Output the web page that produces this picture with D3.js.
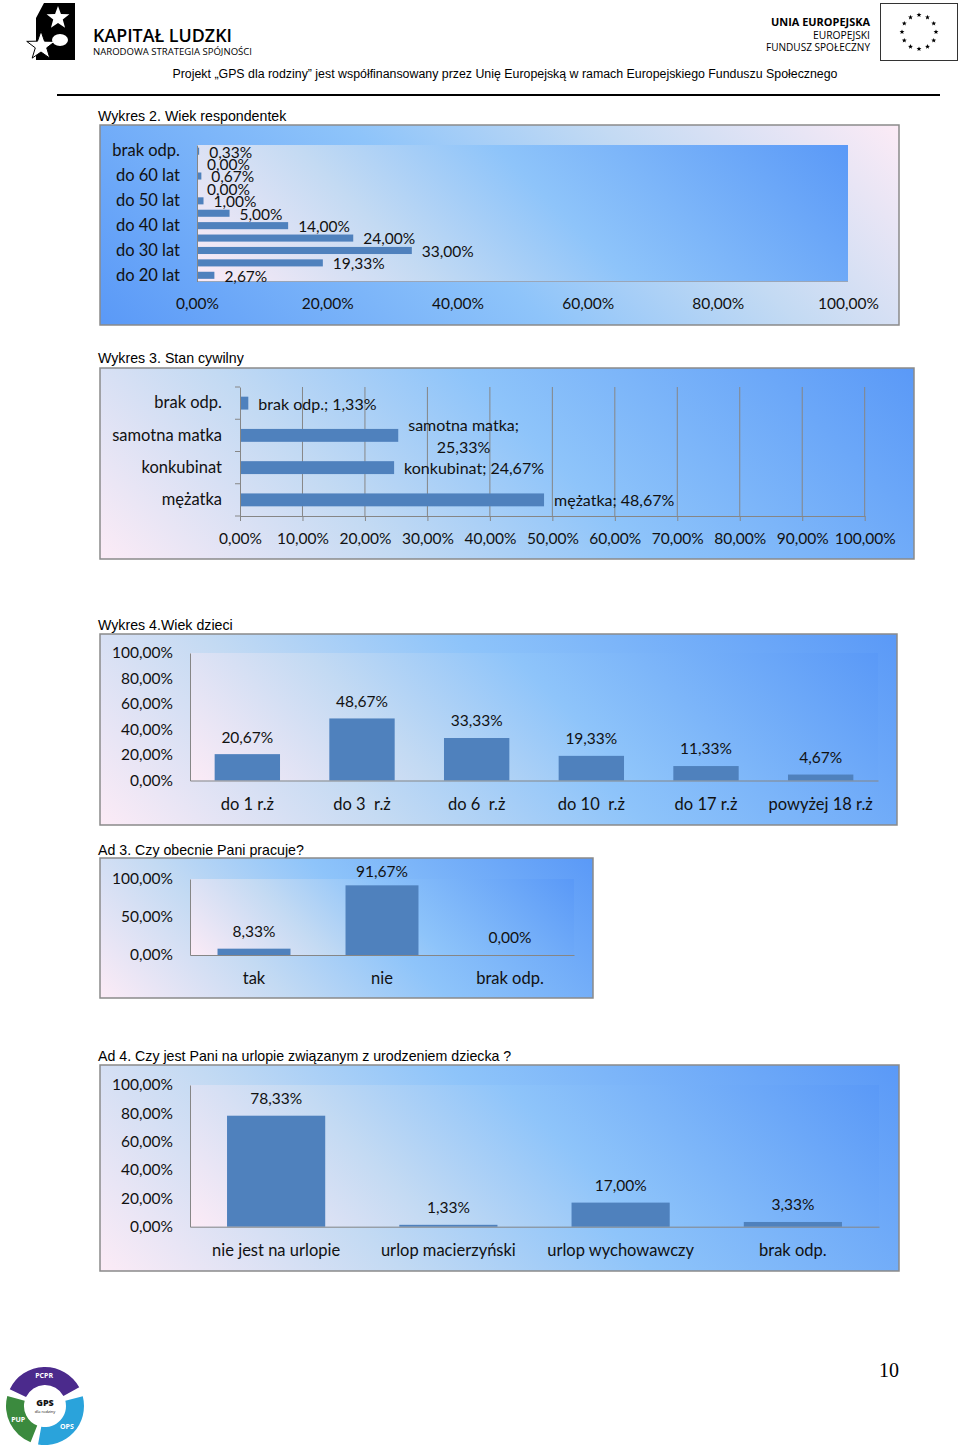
<!DOCTYPE html>
<html><head><meta charset="utf-8">
<script src="https://cdn.jsdelivr.net/npm/d3@7"></script>
<style>
body{margin:0;background:#fff}
svg{display:block}
text{white-space:pre}
</style>
</head><body>
<svg id="page" width="960" height="1448"></svg>
<script>
// ---------- DATA ----------
const ageCategories = ["brak odp.","","do 60 lat","","do 50 lat","","do 40 lat","","do 30 lat","","do 20 lat"];
const ageValues = [0.33,0.00,0.67,0.00,1.00,5.00,14.00,24.00,33.00,19.33,2.67];
const ageTicks = [0,20,40,60,80,100];

const civilCategories = ["brak odp.","samotna matka","konkubinat","mężatka"];
const civilValues = [1.33,25.33,24.67,48.67];
const civilTicks = [0,10,20,30,40,50,60,70,80,90,100];

const childCategories = ["do 1 r.ż","do 3  r.ż","do 6  r.ż","do 10  r.ż","do 17 r.ż","powyżej 18 r.ż"];
const childValues = [20.67,48.67,33.33,19.33,11.33,4.67];
const childTicks = [0,20,40,60,80,100];

const workCategories = ["tak","nie","brak odp."];
const workValues = [8.33,91.67,0.00];
const workTicks = [0,50,100];

const leaveCategories = ["nie jest na urlopie","urlop macierzyński","urlop wychowawczy","brak odp."];
const leaveValues = [78.33,1.33,17.00,3.33];
const leaveTicks = [0,20,40,60,80,100];

const chartTitles = ["Wykres 2. Wiek respondentek","Wykres 3. Stan cywilny","Wykres 4.Wiek dzieci",
  "Ad 3. Czy obecnie Pani pracuje?","Ad 4. Czy jest Pani na urlopie związanym z urodzeniem dziecka ?"];

// ---------- STYLE ----------
const FONT = "Lato, 'Open Sans', sans-serif";
const FS = 15.5;      // numbers
const FSC = 16.5;     // category words
const FSM = 16;       // mixed labels
const BAR = "#4f81bd";
const AXIS = "#868686";
const TXT = "#111";
const STOPS = [[0,"#fcebf6"],[0.3,"#c3daf3"],[0.55,"#8ec4fa"],[1,"#5a99f7"]];
const pct = v => d3.format(".2f")(v).replace(".", ",") + "%";

const svg = d3.select("#page");
svg.append("rect").attr("width",960).attr("height",1448).attr("fill","#fff");
const defs = svg.append("defs");

function grad(id, x, y, w, h, reverse) {
  const L = (w + h) / 2;
  const g = defs.append("linearGradient").attr("id", id).attr("gradientUnits", "userSpaceOnUse");
  if (!reverse) g.attr("x1", x).attr("y1", y + h).attr("x2", x + L).attr("y2", y + h - L);
  else g.attr("x2", x).attr("y2", y + h).attr("x1", x + L).attr("y1", y + h - L);
  STOPS.forEach(s => g.append("stop").attr("offset", s[0]).attr("stop-color", s[1]));
  return "url(#" + id + ")";
}

function frame(id, x, y, w, h, reverse) {
  svg.append("rect").attr("x", x).attr("y", y).attr("width", w).attr("height", h)
    .attr("fill", grad(id, x, y, w, h, reverse)).attr("stroke", "#8a8a8a").attr("stroke-width", 1.5);
}
function plotBg(id, x, y, w, h) {
  svg.append("rect").attr("x", x).attr("y", y).attr("width", w).attr("height", h)
    .attr("fill", grad(id, x, y, w, h, false));
}
function title(t, x, y) {
  svg.append("text").attr("x", x).attr("y", y).attr("font-family", "'Liberation Sans', Arial, sans-serif")
    .attr("font-size", 14.2).attr("fill", "#000").text(t);
}
function styleAxis(g, keepDomain, size) {
  g.selectAll("text").attr("font-family", FONT).attr("font-size", size).attr("fill", TXT);
  g.selectAll("line").attr("stroke", AXIS);
  if (keepDomain) g.select(".domain").attr("stroke", AXIS); else g.select(".domain").remove();
}

// ---------- HEADER ----------
(function header(){
  const h = svg.append("g");
  h.append("path").attr("d","M44,3 L75,3 L75,60 L36,60 L36,18 Z").attr("fill","#000");
  const star = (cx, cy, R, r) => {
    const pts = d3.range(10).map(i => {
      const a = -Math.PI/2 + i*Math.PI/5, rr = i%2 ? r : R;
      return [cx + rr*Math.cos(a), cy + rr*Math.sin(a)];
    });
    return "M" + pts.join("L") + "Z";
  };
  h.append("path").attr("d", star(58, 18, 12, 5)).attr("fill","#fff");
  h.append("path").attr("d", star(41, 46, 15, 6)).attr("fill","#fff").attr("stroke","#000").attr("stroke-width",1);
  h.append("ellipse").attr("cx",60).attr("cy",40).attr("rx",8).attr("ry",6).attr("fill","#fff");
  h.append("text").attr("x",93).attr("y",42).attr("font-family","'Open Sans', sans-serif").attr("font-weight",600)
    .attr("font-size",17.5).attr("textLength",139).attr("lengthAdjust","spacingAndGlyphs").text("KAPITAŁ LUDZKI");
  h.append("text").attr("x",93).attr("y",55).attr("font-family","'Open Sans', sans-serif")
    .attr("font-size",8.5).attr("textLength",159).attr("lengthAdjust","spacingAndGlyphs").text("NARODOWA STRATEGIA SPÓJNOŚCI");
  h.append("text").attr("x",870).attr("y",26).attr("text-anchor","end").attr("font-family","'Open Sans', sans-serif")
    .attr("font-weight",700).attr("font-size",10.5).attr("textLength",99).attr("lengthAdjust","spacingAndGlyphs").text("UNIA EUROPEJSKA");
  h.append("text").attr("x",870).attr("y",39).attr("text-anchor","end").attr("font-family","'Open Sans', sans-serif")
    .attr("font-size",10).attr("textLength",57).attr("lengthAdjust","spacingAndGlyphs").text("EUROPEJSKI");
  h.append("text").attr("x",870).attr("y",51).attr("text-anchor","end").attr("font-family","'Open Sans', sans-serif")
    .attr("font-size",10).attr("textLength",104).attr("lengthAdjust","spacingAndGlyphs").text("FUNDUSZ SPOŁECZNY");
  h.append("rect").attr("x",880.5).attr("y",3.5).attr("width",77).attr("height",57).attr("fill","#fff").attr("stroke","#333");
  d3.range(12).forEach(i => {
    const a = i*Math.PI/6;
    h.append("path").attr("d", star(919 + 17*Math.cos(a), 32 + 17*Math.sin(a), 2.6, 1.1)).attr("fill","#000");
  });
  h.append("text").attr("x",505).attr("y",78).attr("text-anchor","middle")
    .attr("font-family","'Liberation Sans', Arial, sans-serif").attr("font-size",12.5)
    .attr("textLength",665).attr("lengthAdjust","spacingAndGlyphs")
    .text("Projekt „GPS dla rodziny” jest współfinansowany przez Unię Europejską w ramach Europejskiego Funduszu Społecznego");
  h.append("line").attr("x1",57).attr("x2",940).attr("y1",95).attr("y2",95).attr("stroke","#000").attr("stroke-width",2);
})();

// ---------- CHART 2 : horizontal, ages ----------
(function(){
  title(chartTitles[0], 98, 121);
  frame("g2f", 100, 125, 799, 200, true);
  const L = 197, R = 848, T = 145, B = 281.5;
  plotBg("g2p", L, T, R - L, B - T);
  svg.append("line").attr("x1",L).attr("x2",R).attr("y1",B).attr("y2",B).attr("stroke","#9aa6b8").attr("stroke-width",1);
  const x = d3.scaleLinear().domain([0,100]).range([L, R]);
  const y = d3.scaleBand().domain(d3.range(ageValues.length)).range([T, B]).paddingInner(0.43).paddingOuter(0.215);
  svg.append("g").selectAll("rect").data(ageValues).join("rect")
    .attr("x", L).attr("y", (d,i) => y(i)).attr("width", d => x(d) - L).attr("height", y.bandwidth()).attr("fill", BAR);
  const gx = svg.append("g").attr("transform", `translate(0,${B})`)
    .call(d3.axisBottom(x).tickValues(ageTicks).tickSize(0).tickPadding(16).tickFormat(pct));
  styleAxis(gx, false, FS);
  const gy = svg.append("g").attr("transform", `translate(${L},0)`)
    .call(d3.axisLeft(y).tickSize(0).tickPadding(17).tickFormat(i => ageCategories[i]));
  styleAxis(gy, true, FSC);
  svg.append("g").selectAll("text").data(ageValues).join("text")
    .attr("x", d => x(d) + 10).attr("y", (d,i) => y(i) + y.bandwidth()/2 + 1).attr("dy","0.35em")
    .attr("font-family", FONT).attr("font-size", FS).attr("fill", TXT).text(pct);
})();

// ---------- CHART 3 : horizontal, civil status ----------
(function(){
  title(chartTitles[1], 98, 363);
  frame("g3f", 100, 368, 814, 191, false);
  const L = 240, R = 864.7, T = 387, B = 516;
  const x = d3.scaleLinear().domain([0,100]).range([L, R]);
  const y = d3.scaleBand().domain(civilCategories).range([T, B]).paddingInner(0.6).paddingOuter(0.3);
  svg.append("g").selectAll("line").data(civilTicks.slice(1)).join("line")
    .attr("x1", d => x(d)).attr("x2", d => x(d)).attr("y1", T).attr("y2", B).attr("stroke", AXIS);
  svg.append("g").selectAll("rect").data(civilValues).join("rect")
    .attr("x", L).attr("y", (d,i) => y(civilCategories[i])).attr("width", d => x(d) - L)
    .attr("height", y.bandwidth()).attr("fill", BAR);
  const gx = svg.append("g").attr("transform", `translate(0,${B})`)
    .call(d3.axisBottom(x).tickValues(civilTicks).tickSizeInner(5).tickSizeOuter(0).tickPadding(12).tickFormat(pct));
  styleAxis(gx, true, FS);
  const gy = svg.append("g").attr("transform", `translate(${L},0)`)
    .call(d3.axisLeft(y).tickSize(0).tickPadding(18));
  styleAxis(gy, true, FSC);
  svg.append("g").selectAll("line").data(d3.range(civilCategories.length + 1)).join("line")
    .attr("x1", L - 5).attr("x2", L).attr("y1", i => T + i * y.step()).attr("y2", i => T + i * y.step()).attr("stroke", AXIS);
  const lab = svg.append("g");
  civilValues.forEach((v, i) => {
    const cy = y(civilCategories[i]) + y.bandwidth()/2;
    const x0 = x(v) + 10;
    const full = civilCategories[i] + "; " + pct(v);
    const t = lab.append("text").attr("x", x0).attr("y", cy + 1).attr("dy","0.35em")
      .attr("font-family", FONT).attr("font-size", FSM).attr("fill", TXT).text(full);
    if (t.node().getComputedTextLength() > 155) {
      t.text(civilCategories[i] + ";");
      const w = t.node().getComputedTextLength();
      t.attr("text-anchor","middle").attr("x", x0 + w/2).attr("y", cy - 10);
      lab.append("text").attr("x", x0 + w/2).attr("y", cy + 12).attr("dy","0.35em").attr("text-anchor","middle")
        .attr("font-family", FONT).attr("font-size", FSM).attr("fill", TXT).text(pct(v));
    }
  });
})();

// ---------- VERTICAL CHART HELPER ----------
function vchart(o) {
  title(o.title, 98, o.titleY);
  frame(o.id + "f", o.fx, o.fy, o.fw, o.fh, false);
  plotBg(o.id + "p", o.L, o.T, o.R - o.L, o.B - o.T);
  const x = d3.scaleBand().domain(o.cats).range([o.L, o.R]).paddingInner(0.43).paddingOuter(0.215);
  const y = d3.scaleLinear().domain([0,100]).range([o.B, o.T]);
  svg.append("g").selectAll("rect").data(o.vals).join("rect")
    .attr("x", (d,i) => x(o.cats[i])).attr("y", d => y(d)).attr("width", x.bandwidth())
    .attr("height", d => o.B - y(d)).attr("fill", BAR);
  const gy = svg.append("g").attr("transform", `translate(${o.L},0)`)
    .call(d3.axisLeft(y).tickValues(o.ticks).tickSize(0).tickPadding(17).tickFormat(pct));
  styleAxis(gy, true, FS);
  const gx = svg.append("g").attr("transform", `translate(0,${o.B})`)
    .call(d3.axisBottom(x).tickSize(0).tickPadding(o.xpad));
  styleAxis(gx, true, FSC);
  svg.append("g").selectAll("text").data(o.vals).join("text")
    .attr("x", (d,i) => x(o.cats[i]) + x.bandwidth()/2)
    .attr("y", d => Math.max(y(d) - 17, o.T - 7)).attr("dy","0.35em").attr("text-anchor","middle")
    .attr("font-family", FONT).attr("font-size", FS).attr("fill", TXT).text(pct);
}

vchart({ id:"g4", title: chartTitles[2], titleY: 630, fx:100, fy:634, fw:797, fh:191,
  L:190, R:878, T:653, B:780.5, cats: childCategories, vals: childValues, ticks: childTicks, xpad: 18 });
vchart({ id:"g5", title: chartTitles[3], titleY: 855, fx:100, fy:858, fw:493, fh:140,
  L:190, R:574, T:879, B:955, cats: workCategories, vals: workValues, ticks: workTicks, xpad: 17 });
vchart({ id:"g6", title: chartTitles[4], titleY: 1061, fx:100, fy:1065, fw:799, fh:206,
  L:190, R:879, T:1085, B:1226.7, cats: leaveCategories, vals: leaveValues, ticks: leaveTicks, xpad: 18 });

// ---------- FOOTER ----------
(function(){
  const f = svg.append("g").attr("transform","translate(45,1406)");
  const arc = d3.arc().innerRadius(21).outerRadius(39);
  const segs = [[-2.7,-0.5,"#4b2a8c","PCPR"],[-0.25,1.75,"#2aa3db","OPS"],[1.95,3.4,"#3b8a3e","PUP"]];
  segs.forEach(s => {
    f.append("path").attr("d", arc({startAngle:s[0]+Math.PI/2, endAngle:s[1]+Math.PI/2})).attr("fill", s[2]);
  });
  segs.forEach(s => {
    const a = (s[0]+s[1])/2;
    f.append("text").attr("x", 30*Math.cos(a)).attr("y", 30*Math.sin(a)).attr("dy","0.35em").attr("text-anchor","middle")
      .attr("font-family","'Open Sans', sans-serif").attr("font-weight",700).attr("font-size",7).attr("fill","#fff").text(s[3]);
  });
  f.append("text").attr("x",0).attr("y",0).attr("text-anchor","middle").attr("font-family","'Open Sans', sans-serif")
    .attr("font-weight",800).attr("font-size",9).attr("fill","#111").text("GPS");
  f.append("text").attr("x",0).attr("y",7).attr("text-anchor","middle").attr("font-family","'Open Sans', sans-serif")
    .attr("font-size",4).attr("fill","#111").text("dla rodziny");
  svg.append("text").attr("x",879).attr("y",1377).attr("font-family","'Liberation Serif', serif").attr("font-size",20)
    .attr("fill","#000").text("10");
})();
</script>
</body></html>
